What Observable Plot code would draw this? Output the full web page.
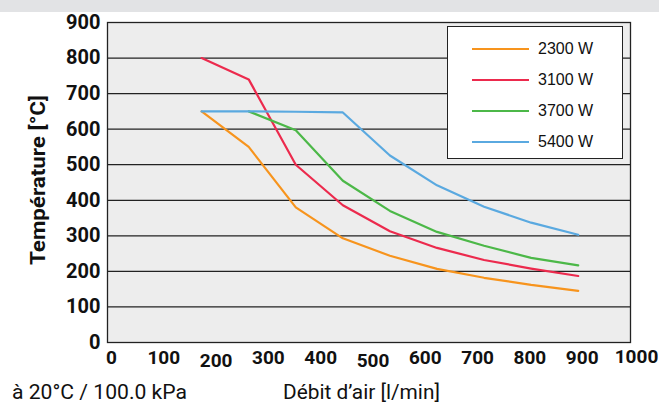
<!DOCTYPE html>
<html>
<head>
<meta charset="utf-8">
<script src="https://cdn.jsdelivr.net/npm/d3@7"></script>
<script src="https://cdn.jsdelivr.net/npm/@observablehq/plot@0.6"></script>
<style>
  html, body { margin: 0; padding: 0; background: #fff; }
  #wrap { position: relative; width: 659px; height: 406px; overflow: hidden; }
  #band { position: absolute; left: 0; top: 0; width: 659px; height: 12px; background: #e2e3e5; }
  #chart { position: absolute; left: 0; top: 0; }
  .cond { font-family: Roboto, "Liberation Sans", sans-serif; color: #111; white-space: nowrap; position: absolute; transform-origin: 0 0; line-height: 1; }
  #note { left: 12px; top: 382px; font-size: 20px; }
  #xtitle { left: 283px; top: 382px; font-size: 20px; }
  #ytitle { left: 28px; top: 265px; font-size: 20px; font-weight: bold; }
  #legend { position: absolute; left: 447px; top: 26px; width: 174px; height: 131px; background: #fff; border: 1px solid #222; font-family: "Liberation Sans", Arial, sans-serif; font-size: 16px; color: #111; }
  .item { position: absolute; left: 0; height: 20px; display: flex; align-items: center; }
  .swatch { display: inline-block; width: 57px; height: 2px; margin-left: 24px; margin-right: 9px; }
</style>
</head>
<body>
<div id="wrap">
  <div id="band"></div>
  <div id="chart"></div>
  <div id="legend"></div>
  <div id="note" class="cond">à 20°C / 100.0 kPa</div>
  <div id="xtitle" class="cond">Débit d’air [l/min]</div>
  <div id="ytitle" class="cond">Température [°C]</div>
</div>
<script>
const flow = [180, 270, 360, 450, 540, 630, 720, 810, 900];
const t2300 = [650, 550, 380, 293, 244, 207, 182, 162, 145];
const t3100 = [800, 740, 500, 386, 313, 266, 232, 208, 187];
const t3700 = [null, 650, 597, 455, 370, 311, 272, 238, 217];
const t5400 = [650, 650, 649, 647, 526, 442, 382, 337, 303];
const seriesNames = ["2300 W", "3100 W", "3700 W", "5400 W"];
const seriesColors = ["#f7941d", "#ec2a4d", "#4cb848", "#5aa9e0"];
const xTicks = [0, 100, 200, 300, 400, 500, 600, 700, 800, 900, 1000];
const yTicks = [0, 100, 200, 300, 400, 500, 600, 700, 800, 900];
const gridTicks = [100, 200, 300, 400, 500, 600, 700, 800];

const allSeries = [t2300, t3100, t3700, t5400];
const rows = [];
allSeries.forEach((vals, si) => {
  vals.forEach((v, i) => {
    if (v != null) rows.push({ flow: flow[i], temp: v, series: seriesNames[si] });
  });
});

const lowTicks = [200, 500];
const highTicks = [1000];
const midTicks = xTicks.filter(t => !lowTicks.includes(t) && !highTicks.includes(t));
const fmt = d => String(d);

const plot = Plot.plot({
  width: 659,
  height: 406,
  marginLeft: 107,
  marginRight: 29,
  marginTop: 22,
  marginBottom: 64,
  style: { fontFamily: 'Roboto, "Liberation Sans", sans-serif', background: "transparent", color: "#111" },
  x: { domain: [0, 1000] },
  y: { domain: [0, 900] },
  color: { domain: seriesNames, range: seriesColors },
  marks: [
    Plot.frame({ fill: "#ededed" }),
    Plot.ruleY(gridTicks, { stroke: "#222", strokeWidth: 1.3 }),
    Plot.line(rows, { x: "flow", y: "temp", z: "series", stroke: "series", strokeWidth: 2.2 }),
    Plot.frame({ stroke: "#222", strokeWidth: 1.3 }),
    Plot.axisY(yTicks, { tickSize: 0, tickPadding: 7, fontSize: 20, fontWeight: "bold", tickFormat: fmt, label: null }),
    Plot.axisX(midTicks, { tickSize: 0, tickPadding: 8, fontSize: 19, fontWeight: "bold", dx: 4, tickFormat: fmt, label: null }),
    Plot.axisX(lowTicks, { tickSize: 0, tickPadding: 11, fontSize: 19, fontWeight: "bold", dx: 4, tickFormat: fmt, label: null }),
    Plot.axisX(highTicks, { tickSize: 0, tickPadding: 7, fontSize: 19, fontWeight: "bold", dx: 6, tickFormat: fmt, label: null })
  ]
});
document.getElementById("chart").appendChild(plot);

const legend = document.getElementById("legend");
const legendY = [12, 43, 74, 105];
seriesNames.forEach((name, i) => {
  const item = document.createElement("div");
  item.className = "item";
  item.style.top = legendY[i] + "px";
  const sw = document.createElement("span");
  sw.className = "swatch";
  sw.style.background = seriesColors[i];
  const lab = document.createElement("span");
  lab.textContent = name;
  item.appendChild(sw);
  item.appendChild(lab);
  legend.appendChild(item);
});

// fit text widths to the reference layout
function fit(id, target, rotate) {
  const el = document.getElementById(id);
  const w = el.getBoundingClientRect().width;
  const s = target / w;
  el.style.transform = (rotate ? "rotate(-90deg) " : "") + "scaleX(" + s.toFixed(3) + ")";
}
fit("note", 175, false);
fit("xtitle", 157, false);
fit("ytitle", 170, true);
</script>
</body>
</html>
